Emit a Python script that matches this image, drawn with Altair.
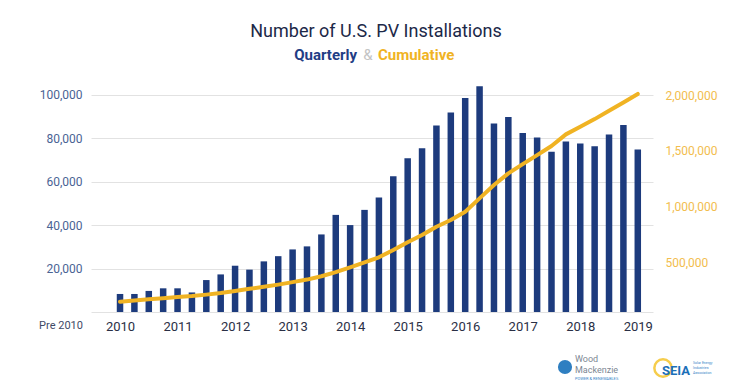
import altair as alt
import pandas as pd

# ---- data ----
years = [2010, 2011, 2012, 2013, 2014, 2015, 2016, 2017, 2018, 2019]
quarter_index = list(range(37))  # 2010 Q1 ... 2019 Q1
quarterly = [8300, 8300, 9700, 10900, 10900, 9000, 14700, 17300, 21300, 19500,
             23300, 25700, 28800, 30200, 35700, 44700, 40000, 47000, 52700, 62500,
             70800, 75400, 85800, 91800, 98500, 103900, 86700, 89700, 82400, 80300,
             73700, 78500, 77600, 76300, 81700, 86100, 74800]
cumulative = [146000, 158000, 168000, 178000, 188000, 197000, 210000, 225000, 243000, 262000,
              280000, 300000, 322000, 345000, 375000, 412000, 455000, 500000, 545000, 610000,
              680000, 745000, 820000, 880000, 955000, 1074000, 1194000, 1299000, 1382000, 1463000,
              1544000, 1649000, 1717000, 1786000, 1861000, 1936000, 2012000]
left_ticks = [0, 20000, 40000, 60000, 80000, 100000]
right_ticks = [500000, 1000000, 1500000, 2000000]

df = pd.DataFrame({"idx": quarter_index, "quarterly": quarterly, "cumulative": cumulative})

FONT = "Roboto"
NAVY = "#1d3b7d"
GOLD = "#f0b323"

x_enc = alt.X(
    "idx:Q",
    scale=alt.Scale(domain=[-1.67, 36.71], nice=False, zero=False),
    axis=alt.Axis(
        values=[i * 4 for i in range(len(years))],
        labelExpr="'' + (%d + datum.value / 4)" % years[0],
        grid=False, domain=False, ticks=False,
        labelFont=FONT, labelFontSize=13, labelColor="#2a2f45",
        labelPadding=8, title=None,
    ),
)

bars = alt.Chart(df).mark_bar(width=6.5, color=NAVY).encode(
    x=x_enc,
    y=alt.Y(
        "quarterly:Q",
        scale=alt.Scale(domain=[0, 110000], nice=False),
        axis=alt.Axis(
            orient="left", values=left_ticks,
            labelExpr="datum.value == 0 ? '' : format(datum.value, ',')",
            grid=True, gridColor="#e2e2e2", gridWidth=1,
            domain=False, ticks=False,
            labelFont=FONT, labelFontSize=12, labelColor="#4a6394",
            labelPadding=9, title=None,
        ),
    ),
)

line = alt.Chart(df).mark_line(color=GOLD, strokeWidth=4, strokeCap="round", strokeJoin="round").encode(
    x=alt.X("idx:Q"),
    y=alt.Y(
        "cumulative:Q",
        scale=alt.Scale(domain=[54000, 2200000], nice=False, zero=False),
        axis=alt.Axis(
            orient="right", values=right_ticks,
            labelExpr="format(datum.value, ',')",
            grid=False, domain=False, ticks=False,
            labelFont=FONT, labelFontSize=12, labelColor="#f2bd4e",
            labelPadding=12, title=None,
        ),
    ),
)


def label(text, x, y, size, color, weight="normal", align="center", font=FONT):
    return alt.Chart(pd.DataFrame({"t": [text]})).mark_text(
        align=align, baseline="middle", fontSize=size, color=color,
        fontWeight=weight, font=font,
    ).encode(text="t:N", x=alt.value(x), y=alt.value(y))


def dot(x, y, size, fill=None, stroke=None, sw=0):
    kw = {}
    if fill:
        kw["fill"] = fill
        kw["filled"] = True
    if stroke:
        kw["stroke"] = stroke
        kw["strokeWidth"] = sw
        if not fill:
            kw["filled"] = False
    return alt.Chart(pd.DataFrame({"a": [0]})).mark_point(shape="circle", size=size, opacity=1, **kw).encode(
        x=alt.value(x), y=alt.value(y))


annotations = [
    label("Number of U.S. PV Installations", 285, -41, 18, "#1c2848"),
    label("Quarterly", 266, -18, 15, "#1f3d85", weight="bold", align="right"),
    label("&", 277, -18, 15, "#c4c4c4"),
    label("Cumulative", 287, -18, 15, GOLD, weight="bold", align="left"),
    label("Pre 2010", -30, 253, 11, "#3f4a66"),
    # logos (approximated as text)
    dot(474, 294, 200, fill="#2f7fc1"),
    label("Wood", 484, 286, 9, "#7d8793", align="left"),
    label("Mackenzie", 484, 297, 9, "#7d8793", align="left"),
    label("POWER & RENEWABLES", 484, 306, 4, "#3a86c8", align="left"),
    dot(572, 295, 300, stroke="#f6cd4c", sw=2.5),
    label("SEIA", 585, 298, 13, "#1b6fb8", weight="bold"),
    label("Solar Energy", 602, 290, 3.5, "#3a86c8", align="left"),
    label("Industries", 602, 295, 3.5, "#3a86c8", align="left"),
    label("Association", 602, 300, 3.5, "#3a86c8", align="left"),
]

chart = alt.layer(bars, line, *annotations).resolve_scale(y="independent").properties(
    width=562, height=239,
    autosize=alt.AutoSizeParams(type="none"),
    padding={"left": 83, "top": 65, "right": 89, "bottom": 68},
    background="white",
).configure_view(stroke=None)

chart.save("out.html", embed_options={"renderer": "svg", "actions": False})
